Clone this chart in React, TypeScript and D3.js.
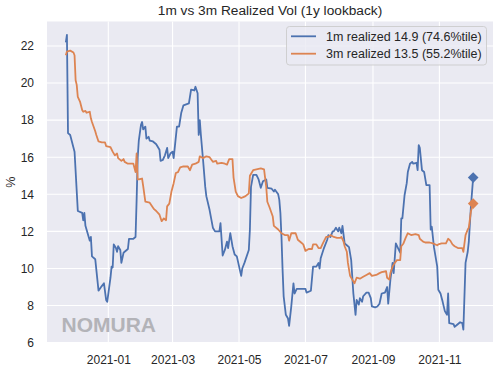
import React, { useRef, useEffect } from "react";
import * as d3 from "d3";

// 1m realized vol (blue)
const oneMonthDates = [
  "2020-11-23", "2020-11-24", "2020-11-25", "2020-11-27", "2020-12-01", "2020-12-04", "2020-12-08", "2020-12-09",
  "2020-12-10", "2020-12-11", "2020-12-12", "2020-12-14", "2020-12-15", "2020-12-16", "2020-12-17", "2020-12-20",
  "2020-12-23", "2020-12-26", "2020-12-28", "2020-12-30", "2020-12-31", "2021-01-03", "2021-01-04", "2021-01-05",
  "2021-01-06", "2021-01-08", "2021-01-09", "2021-01-10", "2021-01-12", "2021-01-13", "2021-01-15", "2021-01-16",
  "2021-01-19", "2021-01-20", "2021-01-24", "2021-01-26", "2021-01-27", "2021-01-28", "2021-01-29", "2021-01-31",
  "2021-02-01", "2021-02-02", "2021-02-04", "2021-02-05", "2021-02-07", "2021-02-08", "2021-02-11", "2021-02-14",
  "2021-02-17", "2021-02-18", "2021-02-20", "2021-02-22", "2021-02-24", "2021-02-25", "2021-02-27", "2021-03-01",
  "2021-03-02", "2021-03-05", "2021-03-07", "2021-03-09", "2021-03-11", "2021-03-16", "2021-03-18", "2021-03-21",
  "2021-03-22", "2021-03-24", "2021-03-25", "2021-03-26", "2021-03-27", "2021-03-29", "2021-03-31", "2021-04-01",
  "2021-04-04", "2021-04-07", "2021-04-09", "2021-04-13", "2021-04-14", "2021-04-16", "2021-04-18", "2021-04-20",
  "2021-04-21", "2021-04-23", "2021-04-25", "2021-04-27", "2021-04-29", "2021-05-03", "2021-05-04", "2021-05-06",
  "2021-05-10", "2021-05-11", "2021-05-12", "2021-05-14", "2021-05-17", "2021-05-19", "2021-05-21", "2021-05-23",
  "2021-05-26", "2021-05-27", "2021-05-31", "2021-06-02", "2021-06-03", "2021-06-06", "2021-06-07", "2021-06-08",
  "2021-06-09", "2021-06-10", "2021-06-11", "2021-06-13", "2021-06-15", "2021-06-16", "2021-06-18", "2021-06-20",
  "2021-06-21", "2021-06-23", "2021-07-01", "2021-07-02", "2021-07-06", "2021-07-08", "2021-07-11", "2021-07-13",
  "2021-07-14", "2021-07-15", "2021-07-18", "2021-07-21", "2021-07-22", "2021-07-24", "2021-07-26", "2021-07-27",
  "2021-07-29", "2021-07-31", "2021-08-01", "2021-08-03", "2021-08-04", "2021-08-06", "2021-08-08", "2021-08-10",
  "2021-08-12", "2021-08-13", "2021-08-14", "2021-08-16", "2021-08-17", "2021-08-19", "2021-08-20", "2021-08-22",
  "2021-08-23", "2021-08-26", "2021-08-28", "2021-08-30", "2021-08-31", "2021-09-03", "2021-09-05", "2021-09-07",
  "2021-09-09", "2021-09-12", "2021-09-14", "2021-09-15", "2021-09-17", "2021-09-19", "2021-09-20", "2021-09-22",
  "2021-09-24", "2021-09-26", "2021-09-27", "2021-09-28", "2021-09-30", "2021-10-02", "2021-10-03", "2021-10-05",
  "2021-10-07", "2021-10-08", "2021-10-11", "2021-10-12", "2021-10-13", "2021-10-14", "2021-10-16", "2021-10-18",
  "2021-10-20", "2021-10-23", "2021-10-24", "2021-10-25", "2021-10-27", "2021-10-30", "2021-10-31", "2021-11-02",
  "2021-11-04", "2021-11-06", "2021-11-08", "2021-11-09", "2021-11-10", "2021-11-14", "2021-11-15", "2021-11-17",
  "2021-11-20", "2021-11-22", "2021-11-23", "2021-11-25", "2021-11-27", "2021-11-28", "2021-11-30", "2021-12-02",
];
const oneMonthVol = [
  22.2, 22.6, 17.3, 17.2, 16.3, 13.1, 13.0, 12.6,
  13.0, 12.3, 12.1, 11.7, 11.5, 11.7, 10.65, 10.5,
  8.8, 9.05, 9.2, 8.3, 8.2, 9.5, 10.1, 10.05,
  11.3, 11.1, 10.9, 11.2, 11.0, 10.3, 10.85, 10.9,
  11.05, 11.6, 11.6, 11.7, 13.7, 16.0, 16.9, 17.75,
  17.9, 17.5, 17.65, 17.0, 17.1, 16.9, 16.85, 16.7,
  16.4, 15.8, 15.85, 16.1, 16.5, 15.95, 16.2, 16.3,
  15.95, 17.65, 17.65, 18.4, 18.8, 18.9, 19.65, 19.6,
  19.8, 19.45, 17.2, 18.0, 17.2, 15.85, 14.4, 13.9,
  13.15, 12.2, 12.0, 12.0, 12.45, 10.7, 11.0, 11.45,
  11.1, 11.9, 11.2, 10.75, 10.65, 9.6, 10.0, 10.3,
  11.0, 12.1, 14.4, 15.05, 15.05, 14.8, 14.35, 14.7,
  14.8, 14.35, 14.3, 14.15, 14.25, 14.0, 13.7, 13.0,
  11.7, 9.95, 8.5, 7.5, 7.3, 6.9, 7.95, 9.2,
  8.65, 8.9, 8.9, 8.7, 8.8, 10.1, 10.1, 10.3,
  10.0, 10.55, 11.1, 11.55, 11.8, 11.7, 12.0, 12.0,
  12.2, 12.0, 12.2, 11.9, 12.3, 11.35, 11.25, 11.15,
  10.45, 9.55, 8.65, 7.5, 8.3, 8.05, 8.4, 8.2,
  8.5, 8.7, 8.7, 8.4, 7.95, 7.9, 7.95, 8.1,
  8.65, 8.7, 9.0, 8.1, 9.4, 10.3, 9.75, 11.35,
  11.1, 10.85, 12.7, 12.7, 13.95, 14.6, 15.2, 15.65,
  15.75, 15.65, 15.7, 15.3, 16.65, 16.5, 15.3, 15.2,
  14.5, 14.5, 12.1, 12.25, 11.15, 10.1, 8.85, 8.65,
  8.2, 7.7, 7.5, 8.65, 7.05, 7.0, 6.85, 6.95,
  7.1, 7.05, 6.7, 10.3, 10.9, 11.45, 13.4, 14.9,
];

// 3m realized vol (orange)
const threeMonthDates = [
  "2020-11-23", "2020-11-24", "2020-11-27", "2020-11-30", "2020-12-01", "2020-12-02", "2020-12-03", "2020-12-04",
  "2020-12-06", "2020-12-08", "2020-12-09", "2020-12-11", "2020-12-12", "2020-12-15", "2020-12-16", "2020-12-17",
  "2020-12-20", "2020-12-21", "2020-12-23", "2020-12-26", "2020-12-29", "2020-12-30", "2021-01-03", "2021-01-05",
  "2021-01-07", "2021-01-09", "2021-01-10", "2021-01-13", "2021-01-15", "2021-01-16", "2021-01-19", "2021-01-24",
  "2021-01-26", "2021-01-27", "2021-01-28", "2021-01-29", "2021-02-01", "2021-02-02", "2021-02-04", "2021-02-08",
  "2021-02-12", "2021-02-14", "2021-02-17", "2021-02-19", "2021-02-21", "2021-02-23", "2021-02-24", "2021-02-26",
  "2021-02-28", "2021-03-02", "2021-03-04", "2021-03-06", "2021-03-08", "2021-03-11", "2021-03-15", "2021-03-17",
  "2021-03-19", "2021-03-22", "2021-03-25", "2021-03-26", "2021-03-29", "2021-04-01", "2021-04-04", "2021-04-07",
  "2021-04-10", "2021-04-11", "2021-04-15", "2021-04-18", "2021-04-20", "2021-04-22", "2021-04-25", "2021-04-26",
  "2021-04-28", "2021-04-30", "2021-05-03", "2021-05-05", "2021-05-07", "2021-05-10", "2021-05-11", "2021-05-14",
  "2021-05-17", "2021-05-21", "2021-05-24", "2021-05-26", "2021-05-27", "2021-05-29", "2021-06-01", "2021-06-02",
  "2021-06-06", "2021-06-09", "2021-06-12", "2021-06-15", "2021-06-16", "2021-06-18", "2021-06-22", "2021-06-24",
  "2021-06-27", "2021-06-29", "2021-07-01", "2021-07-04", "2021-07-07", "2021-07-08", "2021-07-11", "2021-07-13",
  "2021-07-15", "2021-07-17", "2021-07-20", "2021-07-22", "2021-07-24", "2021-07-27", "2021-07-30", "2021-08-02",
  "2021-08-03", "2021-08-05", "2021-08-06", "2021-08-08", "2021-08-09", "2021-08-11", "2021-08-13", "2021-08-15",
  "2021-08-17", "2021-08-20", "2021-08-23", "2021-08-26", "2021-08-29", "2021-08-31", "2021-09-04", "2021-09-07",
  "2021-09-09", "2021-09-13", "2021-09-14", "2021-09-16", "2021-09-17", "2021-09-19", "2021-09-21", "2021-09-23",
  "2021-09-26", "2021-09-27", "2021-09-29", "2021-10-01", "2021-10-03", "2021-10-06", "2021-10-10", "2021-10-13",
  "2021-10-14", "2021-10-17", "2021-10-19", "2021-10-23", "2021-10-26", "2021-10-30", "2021-10-31", "2021-11-03",
  "2021-11-07", "2021-11-09", "2021-11-11", "2021-11-13", "2021-11-15", "2021-11-18", "2021-11-22", "2021-11-23",
  "2021-11-25", "2021-11-27", "2021-11-28", "2021-11-30", "2021-12-02",
];
const threeMonthVol = [
  21.5, 21.7, 21.75, 21.65, 21.5, 20.15, 19.9, 19.25,
  19.0, 18.55, 18.45, 18.5, 18.4, 18.45, 18.1, 17.9,
  17.4, 17.2, 16.85, 16.8, 16.8, 16.6, 16.55, 16.3,
  16.1, 16.2, 15.95, 15.8, 15.9, 15.75, 15.65, 15.65,
  15.2, 16.2, 14.8, 14.8, 14.85, 14.45, 13.6, 13.55,
  13.2, 13.1, 12.9, 12.55, 12.7, 12.6, 13.35, 13.5,
  14.15, 14.6, 15.15, 15.2, 15.45, 15.5, 15.5, 15.3,
  15.6, 15.65, 15.75, 16.05, 15.95, 16.05, 16.0, 15.75,
  15.8, 15.65, 15.7, 15.65, 15.6, 15.9, 15.9, 14.9,
  14.15, 13.9, 13.8, 13.85, 13.9, 14.05, 15.0, 15.3,
  15.35, 15.4, 15.35, 14.4, 13.6, 13.3, 12.8, 12.3,
  12.1, 11.9, 11.8, 11.8, 11.5, 11.9, 11.9, 11.55,
  11.4, 11.3, 10.95, 11.05, 11.05, 11.3, 11.3, 11.1,
  11.1, 11.35, 11.7, 11.7, 11.8, 11.7, 11.65, 11.65,
  11.7, 11.45, 11.2, 10.9, 10.3, 9.6, 9.4, 9.2,
  9.5, 9.45, 9.55, 9.65, 9.75, 9.6, 9.65, 9.75,
  9.8, 9.85, 9.5, 9.4, 9.75, 10.1, 10.3, 10.45,
  10.45, 11.2, 11.35, 11.65, 11.9, 11.8, 11.85, 11.8,
  11.6, 11.45, 11.4, 11.4, 11.35, 11.25, 11.3, 11.35,
  11.35, 11.6, 11.5, 11.3, 11.2, 11.1, 11.1, 10.9,
  11.8, 12.1, 12.2, 13.1, 13.5,
];

const percentile1m = 74.6;
const percentile3m = 55.2;
const yTicks = [6, 8, 10, 12, 14, 16, 18, 20, 22];

const App = () => {
  const svgRef = useRef(null);
  const width = 500;
  const height = 372;
  const margin = { top: 21.5, right: 7, bottom: 29, left: 47 };
  const font = "'Liberation Sans', Arial, sans-serif";
  const textColor = "#262626";

  useEffect(() => {
    const svg = d3.select(svgRef.current);
    svg.selectAll("*").remove();

    const parse = d3.timeParse("%Y-%m-%d");
    const x = d3
      .scaleTime()
      .domain([new Date(2020, 10, 5, 17), new Date(2021, 11, 20, 5)])
      .range([margin.left, width - margin.right]);
    const y = d3
      .scaleLinear()
      .domain([5.98, 23.32])
      .range([height - margin.bottom, margin.top]);

    // plot background
    svg
      .append("rect")
      .attr("x", margin.left)
      .attr("y", margin.top)
      .attr("width", width - margin.left - margin.right)
      .attr("height", height - margin.top - margin.bottom)
      .attr("fill", "#EAEAF2");

    const xTicks = d3.timeMonth.every(2).range(x.domain()[0], x.domain()[1]);

    // grid
    svg
      .append("g")
      .selectAll("line")
      .data(xTicks)
      .join("line")
      .attr("x1", (d) => x(d))
      .attr("x2", (d) => x(d))
      .attr("y1", margin.top)
      .attr("y2", height - margin.bottom)
      .attr("stroke", "white")
      .attr("stroke-width", 1.1);
    svg
      .append("g")
      .selectAll("line")
      .data(yTicks)
      .join("line")
      .attr("x1", margin.left)
      .attr("x2", width - margin.right)
      .attr("y1", (d) => y(d))
      .attr("y2", (d) => y(d))
      .attr("stroke", "white")
      .attr("stroke-width", 1.1);

    // axes (labels only)
    const xAxis = svg
      .append("g")
      .attr("transform", `translate(0,${height - margin.bottom})`)
      .call(d3.axisBottom(x).tickValues(xTicks).tickFormat(d3.timeFormat("%Y-%m")).tickSize(0).tickPadding(12));
    const yAxis = svg
      .append("g")
      .attr("transform", `translate(${margin.left},0)`)
      .call(d3.axisLeft(y).tickValues(yTicks).tickSize(0).tickPadding(13));
    [xAxis, yAxis].forEach((g) => {
      g.select(".domain").remove();
      g.selectAll("text")
        .style("font-family", font)
        .style("font-size", "12px")
        .attr("fill", textColor);
    });

    // watermark
    svg
      .append("text")
      .attr("x", 61.5)
      .attr("y", 332)
      .style("font-family", font)
      .style("font-size", "21px")
      .style("font-weight", "bold")
      .attr("fill", "#b3b3b8")
      .text("NOMURA");

    const series = [
      { dates: oneMonthDates, values: oneMonthVol, color: "#4C72B0", label: `1m realized`, pct: percentile1m },
      { dates: threeMonthDates, values: threeMonthVol, color: "#DD8452", label: `3m realized`, pct: percentile3m },
    ];

    const line = d3
      .line()
      .x((d) => x(d[0]))
      .y((d) => y(d[1]));

    series.forEach((s) => {
      const pts = s.dates.map((d, i) => [parse(d), s.values[i]]);
      svg
        .append("path")
        .datum(pts)
        .attr("d", line)
        .attr("fill", "none")
        .attr("stroke", s.color)
        .attr("stroke-width", 1.8)
        .attr("stroke-linejoin", "round");
    });

    // last-value diamonds
    series.forEach((s) => {
      const last = s.dates.length - 1;
      svg
        .append("path")
        .attr("d", d3.symbol(d3.symbolDiamond2, 72)())
        .attr("transform", `translate(${x(parse(s.dates[last]))},${y(s.values[last])})`)
        .attr("fill", s.color);
    });

    // legend
    const lg = svg.append("g");
    lg.append("rect")
      .attr("x", 286.5)
      .attr("y", 26.5)
      .attr("width", 200)
      .attr("height", 38.5)
      .attr("rx", 3)
      .attr("fill", "#EAEAF2")
      .attr("fill-opacity", 0.8)
      .attr("stroke", "#cccccc")
      .attr("stroke-width", 0.9);
    series.forEach((s, i) => {
      const ly = 36.3 + i * 17.4;
      lg.append("line")
        .attr("x1", 291)
        .attr("x2", 316)
        .attr("y1", ly)
        .attr("y2", ly)
        .attr("stroke", s.color)
        .attr("stroke-width", 1.8);
      lg.append("text")
        .attr("x", 326)
        .attr("y", ly + 4.4)
        .style("font-family", font)
        .style("font-size", "12.5px")
        .attr("fill", textColor)
        .text(`${s.label} ${s.values[s.values.length - 1].toFixed(1)} (${s.pct}%tile)`);
    });

    // title
    svg
      .append("text")
      .attr("x", (margin.left + width - margin.right) / 2)
      .attr("y", 14.5)
      .attr("text-anchor", "middle")
      .style("font-family", font)
      .style("font-size", "13.7px")
      .attr("fill", textColor)
      .text("1m vs 3m Realized Vol (1y lookback)");

    // y label
    svg
      .append("text")
      .attr("transform", `translate(15,${(margin.top + height - margin.bottom) / 2}) rotate(-90)`)
      .attr("text-anchor", "middle")
      .style("font-family", font)
      .style("font-size", "12.5px")
      .attr("fill", textColor)
      .text("%");
  }, []);

  return (
    <>
      <style>{"body{margin:0}"}</style>
      <svg ref={svgRef} width={width} height={height} style={{ display: "block", background: "white" }}></svg>
    </>
  );
};

export default App;
